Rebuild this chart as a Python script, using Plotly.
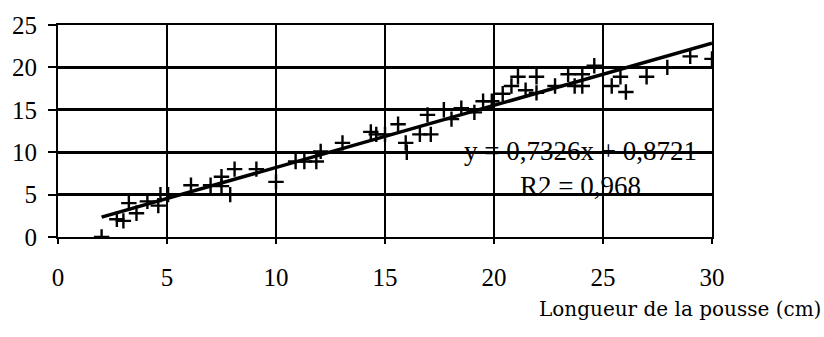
import plotly.graph_objects as go

# Shoot length (cm) vs. measured value
longueur = [2.0, 2.7, 3.0, 3.25, 3.6, 4.1, 4.6, 4.7, 5.05, 6.1, 7.0, 7.5, 7.5, 7.9, 8.1, 9.1,
            10.0, 10.9, 11.3, 11.85, 12.05, 13.05, 14.35, 14.6, 15.0, 15.6, 15.95, 16.0,
            16.6, 16.95, 17.1, 17.7, 18.05, 18.5, 19.1, 19.5, 19.9, 20.4, 20.8, 21.1,
            21.45, 21.95, 21.95, 22.8, 23.4, 23.7, 24.05, 24.05, 24.6, 25.4, 25.8, 26.05,
            27.0, 27.95, 29.0, 30.0]
valeur = [0.0, 2.1, 1.9, 4.0, 2.8, 4.2, 3.7, 5.0, 5.0, 6.1, 6.1, 6.0, 7.1, 5.0, 8.0, 8.0,
          6.5, 8.9, 8.9, 8.9, 10.1, 11.1, 12.4, 12.1, 12.1, 13.3, 11.1, 10.0,
          12.1, 14.4, 12.1, 15.0, 13.9, 15.2, 14.7, 16.0, 16.0, 16.9, 17.8, 18.9,
          17.3, 18.9, 17.0, 17.8, 19.2, 17.8, 19.2, 17.8, 20.2, 17.8, 18.9, 17.1,
          18.9, 20.0, 21.3, 21.0]

# Linear trend coefficients
pente = 0.7326
ordonnee = 0.8721
r2 = 0.968
x_trend = [2.0, 30.0]
y_trend = [pente * v + ordonnee for v in x_trend]

x_ticks = [0, 5, 10, 15, 20, 25, 30]
y_ticks = [0, 5, 10, 15, 20, 25]

serif = "Liberation Serif"

fig = go.Figure()
fig.add_trace(go.Scatter(
    x=longueur, y=valeur, mode="markers",
    marker=dict(symbol="cross-thin", size=11, line=dict(color="black", width=2.4)),
    showlegend=False, hoverinfo="skip",
))
fig.add_trace(go.Scatter(
    x=x_trend, y=y_trend, mode="lines",
    line=dict(color="black", width=3.5),
    showlegend=False, hoverinfo="skip",
))

fig.add_annotation(
    x=23.95, y=8.1, xref="x", yref="y",
    text=f"y = {str(pente).replace('.', ',')}x + {str(ordonnee).replace('.', ',')}"
         f"<br>R2 = {str(r2).replace('.', ',')}",
    showarrow=False, align="center", xanchor="center", yanchor="middle",
    font=dict(family=serif, size=27, color="black"),
)
fig.add_annotation(
    x=1.0, y=-0.272, xref="paper", yref="paper",
    xshift=111, text="Longueur de la pousse (cm)",
    showarrow=False, xanchor="right", yanchor="top",
    font=dict(family="DejaVu Serif", size=20, color="black"),
)

fig.update_xaxes(
    range=[0, 30], tickvals=x_ticks, ticktext=[str(t) for t in x_ticks],
    showgrid=True, gridcolor="black", gridwidth=2,
    showline=True, linecolor="black", linewidth=2, mirror=True,
    ticks="outside", ticklen=5, tickwidth=1.5, tickcolor="black",
    ticklabelstandoff=12, zeroline=False,
    tickfont=dict(family=serif, size=25, color="black"),
)
fig.update_yaxes(
    range=[0, 25], tickvals=y_ticks, ticktext=[str(t) for t in y_ticks],
    showgrid=True, gridcolor="black", gridwidth=2.5,
    showline=True, linecolor="black", linewidth=2, mirror=True,
    ticks="outside", ticklen=8, tickwidth=1.5, tickcolor="black",
    ticklabelstandoff=6, zeroline=False,
    tickfont=dict(family=serif, size=25, color="black"),
)

fig.update_layout(
    width=824, height=337,
    margin=dict(l=50, r=112, t=13, b=100),
    paper_bgcolor="white", plot_bgcolor="white",
)

fig.write_html("out.html")
